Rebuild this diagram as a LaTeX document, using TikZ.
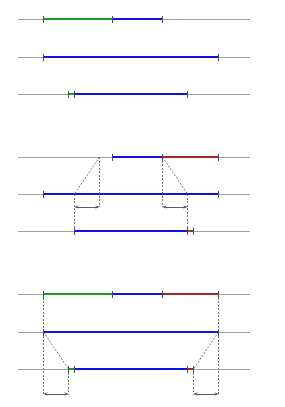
\documentclass[tikz,border=0pt]{standalone}
\usepackage{tikz}
\usepackage{xcolor}
\usetikzlibrary{arrows.meta}
\definecolor{segg}{RGB}{30,158,30}
\definecolor{segb}{RGB}{16,16,240}
\definecolor{segr}{RGB}{168,40,40}
\newcommand{\tickat}[1]{\draw[tk] ([yshift=3.5bp]#1) -- ([yshift=-3.5bp]#1);}

\begin{document}
\begin{tikzpicture}[x=1bp, y=-1bp,
        axis/.style={draw=gray!75, line width=1bp},
        seg/.style={line width=2bp, line cap=butt},
        segG/.style={seg, draw=segg},
        segB/.style={seg, draw=segb},
        segR/.style={seg, draw=segr},
        tk/.style={draw=black!70, line width=1bp},
        guide/.style={draw=gray!90!black, line width=0.6bp, dash pattern=on 2bp off 1.5bp},
        spanarr/.style={draw=black!65, line width=0.7bp, {Stealth[length=4bp,width=3bp]}-{Stealth[length=4bp,width=3bp]}}
    ]
    \useasboundingbox (0,0) rectangle (285,407);

    % ==== Block A ====
    % ---- Row 1 ----
    \coordinate (A1L) at (18,19);    \coordinate (A1R) at (250,19);
    \coordinate (A1a) at (43.5,19);  \coordinate (A1b) at (112.5,19);
    \coordinate (A1c) at (162.5,19);
    \draw[axis] (A1L) -- (A1R);
    \draw[segG] (A1a) -- (A1b);
    \draw[segB] (A1b) -- (A1c);
    \tickat{A1a} \tickat{A1b} \tickat{A1c}

    % ---- Row 2 ----
    \coordinate (A2L) at (18,57);    \coordinate (A2R) at (250,57);
    \coordinate (A2a) at (43.5,57);  \coordinate (A2b) at (218.5,57);
    \draw[axis] (A2L) -- (A2R);
    \draw[segB] (A2a) -- (A2b);
    \tickat{A2a} \tickat{A2b}

    % ---- Row 3 ----
    \coordinate (A3L) at (18,94);    \coordinate (A3R) at (250,94);
    \coordinate (A3a) at (68.5,94);  \coordinate (A3b) at (74.5,94);
    \coordinate (A3c) at (187.5,94);
    \draw[axis] (A3L) -- (A3R);
    \draw[segG] (A3a) -- (A3b);
    \draw[segB] (A3b) -- (A3c);
    \tickat{A3a} \tickat{A3b} \tickat{A3c}

    % ==== Block B ====
    \coordinate (B1L) at (18,157);    \coordinate (B1R) at (250,157);
    \coordinate (B1o) at (99.5,157);
    \coordinate (B1a) at (112.5,157); \coordinate (B1b) at (162.5,157);
    \coordinate (B1c) at (218.5,157);
    \coordinate (B2L) at (18,194);    \coordinate (B2R) at (250,194);
    \coordinate (B2a) at (43.5,194);  \coordinate (B2b) at (218.5,194);
    \coordinate (B2o) at (74.5,194);  \coordinate (B2p) at (187.5,194);
    \coordinate (B3L) at (18,231);    \coordinate (B3R) at (250,231);
    \coordinate (B3a) at (74.5,231);  \coordinate (B3b) at (187.5,231);
    \coordinate (B3c) at (193.5,231);
    \coordinate (Bw1) at (74.5,207);  \coordinate (Bw2) at (99.5,207);
    \coordinate (Bw3) at (162.5,207); \coordinate (Bw4) at (187.5,207);

    \draw[axis] (B1L) -- (B1R);
    \draw[axis] (B2L) -- (B2R);
    \draw[axis] (B3L) -- (B3R);
    % guides
    \draw[guide] (B1o) -- (B2o);
    \draw[guide] (B1o) -- (Bw2);
    \draw[guide] (B2o) -- (B3a);
    \draw[guide] (B1b) -- (B2p);
    \draw[guide] (B1b) -- (Bw3);
    \draw[guide] (B2p) -- (B3b);
    \draw[spanarr] (Bw1) -- (Bw2);
    \draw[spanarr] (Bw3) -- (Bw4);
    % segments
    \draw[segB] (B1a) -- (B1b);
    \draw[segR] (B1b) -- (B1c);
    \draw[segB] (B2a) -- (B2b);
    \draw[segB] (B3a) -- (B3b);
    \draw[segR] (B3b) -- (B3c);
    \tickat{B1a} \tickat{B1b} \tickat{B1c}
    \tickat{B2a} \tickat{B2b}
    \tickat{B3a} \tickat{B3b} \tickat{B3c}

    % ==== Block C ====
    \coordinate (C1L) at (18,294);    \coordinate (C1R) at (250,294);
    \coordinate (C1a) at (43.5,294);  \coordinate (C1b) at (112.5,294);
    \coordinate (C1c) at (162.5,294); \coordinate (C1d) at (218.5,294);
    \coordinate (C2L) at (18,332);    \coordinate (C2R) at (250,332);
    \coordinate (C2a) at (43.5,332);  \coordinate (C2b) at (218.5,332);
    \coordinate (C3L) at (18,369);    \coordinate (C3R) at (250,369);
    \coordinate (C3a) at (68.5,369);  \coordinate (C3b) at (74.5,369);
    \coordinate (C3c) at (187.5,369); \coordinate (C3d) at (193.5,369);
    \coordinate (Cw1) at (43.5,394);  \coordinate (Cw2) at (68.5,394);
    \coordinate (Cw3) at (193.5,394); \coordinate (Cw4) at (218.5,394);

    \draw[axis] (C1L) -- (C1R);
    \draw[axis] (C2L) -- (C2R);
    \draw[axis] (C3L) -- (C3R);
    % guides
    \draw[guide] (C1a) -- (Cw1);
    \draw[guide] (C1d) -- (Cw4);
    \draw[guide] (C2a) -- (C3a);
    \draw[guide] (C3a) -- (Cw2);
    \draw[guide] (C2b) -- (C3d);
    \draw[guide] (C3d) -- (Cw3);
    \draw[spanarr] (Cw1) -- (Cw2);
    \draw[spanarr] (Cw3) -- (Cw4);
    % segments
    \draw[segG] (C1a) -- (C1b);
    \draw[segB] (C1b) -- (C1c);
    \draw[segR] (C1c) -- (C1d);
    \draw[segB] (C2a) -- (C2b);
    \draw[segG] (C3a) -- (C3b);
    \draw[segB] (C3b) -- (C3c);
    \draw[segR] (C3c) -- (C3d);
    \tickat{C1a} \tickat{C1b} \tickat{C1c} \tickat{C1d}
    \tickat{C2a} \tickat{C2b}
    \tickat{C3a} \tickat{C3b} \tickat{C3c} \tickat{C3d}
\end{tikzpicture}
\end{document}
